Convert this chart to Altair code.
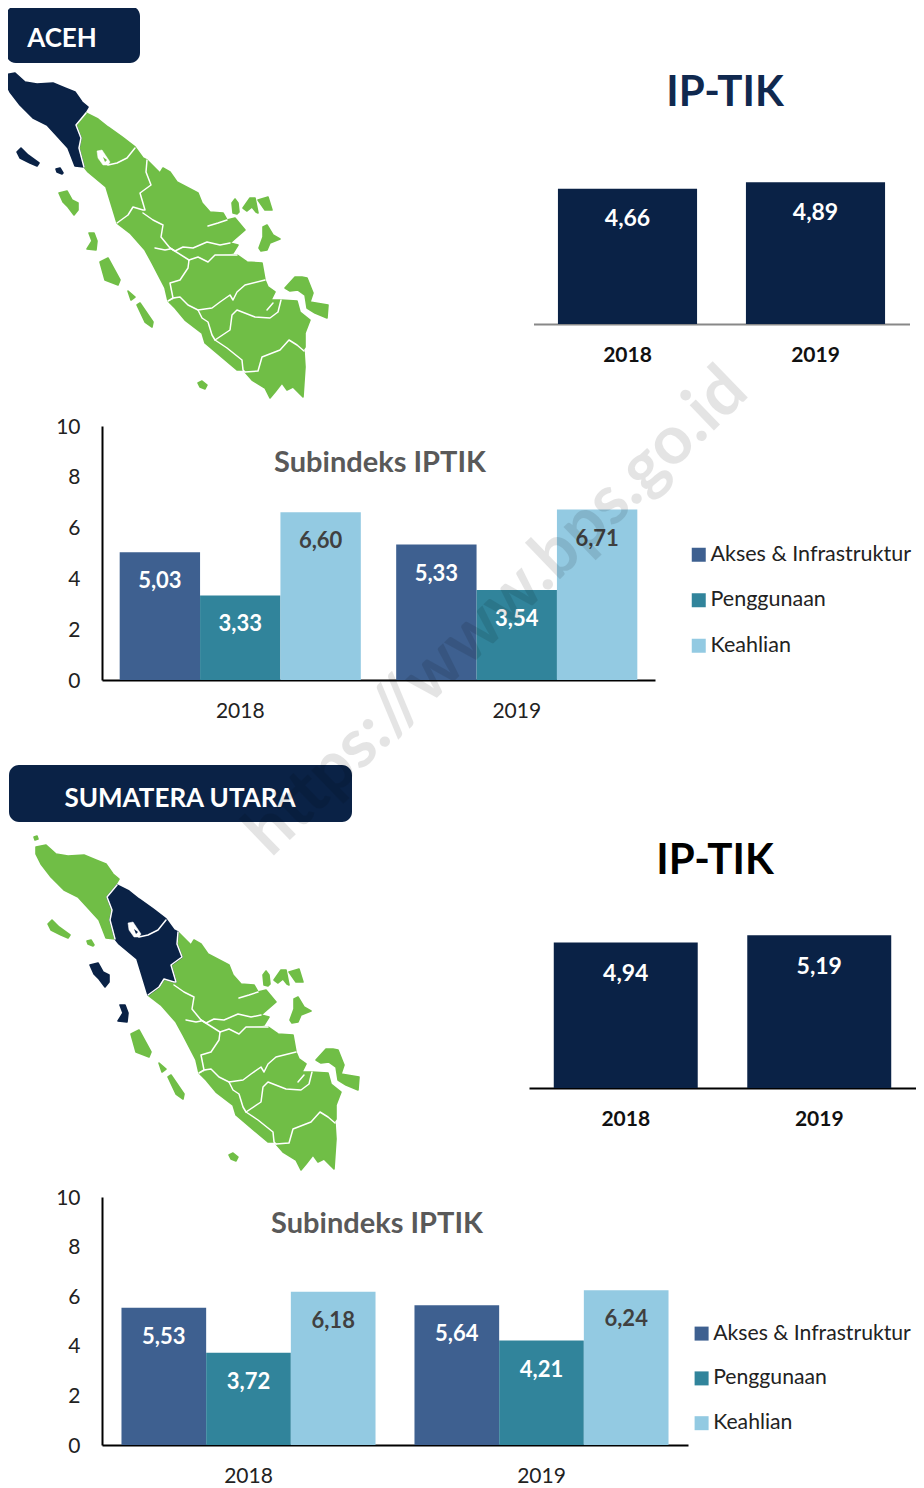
import altair as alt
import pandas as pd

FONT = "Lato"
NAVY = "#0A2246"
GREEN = "#70BE46"
SERIES_COLORS = ["#3E6090", "#31849B", "#93CAE2"]
H = 1478
W = 908

years = ["2018", "2019"]
series = ["Akses & Infrastruktur", "Penggunaan", "Keahlian"]
aceh_total = [4.66, 4.89]
sumut_total = [4.94, 5.19]
aceh_akses = [5.03, 5.33]
aceh_guna = [3.33, 3.54]
aceh_ahli = [6.60, 6.71]
sumut_akses = [5.53, 5.64]
sumut_guna = [3.72, 4.21]
sumut_ahli = [6.18, 6.24]

# Map outlines
prov_aceh = [(5,75),(15,73),(25,82),(37,84),(53,83),(65,88),(75,92),(82,102),(88,107),(85,112),(76,125),(81,138),(79,148),(84,167),(75,166),(68,148),(58,137),(47,125),(33,118),(20,105),(10,92),(5,82)]
prov_sumut = [(86,113),(98,119),(108,127),(122,137),(135,147),(143,158),(147,160),(146,172),(151,185),(140,193),(145,210),(143,210),(133,207),(128,215),(117,223),(106,187),(88,172),(84,167),(79,148),(81,138),(76,125)]
prov_riau = [(147,160),(160,173),(163,168),(170,172),(177,182),(198,193),(202,203),(210,212),(223,213),(227,220),(235,218),(245,230),(230,243),(238,245),(233,253),(215,255),(208,262),(198,257),(189,260),(170,248),(161,237),(163,225),(153,220),(143,213),(145,210),(140,193),(151,185),(146,172)]
prov_sumbar = [(117,223),(128,215),(133,207),(143,210),(143,213),(153,220),(163,225),(161,237),(170,248),(189,260),(188,268),(180,280),(170,283),(173,298),(168,301),(165,288),(152,263),(145,250),(130,233)]
prov_jambi = [(189,260),(198,257),(208,262),(215,255),(237,255),(247,262),(262,263),(265,280),(245,285),(237,292),(233,300),(230,295),(220,302),(212,308),(198,310),(188,305),(180,297),(173,298),(170,283),(180,280),(188,268)]
prov_bengkulu = [(169,302),(180,297),(188,305),(198,310),(202,318),(208,322),(212,335),(215,340),(227,348),(242,360),(243,370),(237,370),(205,343),(202,333),(185,320),(175,308)]
prov_sumsel = [(198,310),(212,308),(220,302),(230,295),(233,300),(237,292),(245,285),(265,280),(268,287),(275,292),(271,300),(281,300),(278,312),(270,318),(255,317),(237,310),(232,315),(230,330),(215,340),(212,335),(208,322),(202,318)]
prov_sumsel2 = [(215,342),(230,330),(232,315),(237,310),(255,317),(270,318),(278,312),(281,300),(297,301),(300,312),(310,320),(305,333),(305,347),(303,350),(297,345),(289,340),(280,350),(262,357),(258,370),(245,371),(242,360),(227,348)]
prov_lampung = [(245,372),(258,371),(262,357),(280,350),(289,340),(297,345),(304,351),(305,367),(303,397),(293,387),(287,390),(282,383),(275,392),(270,398),(265,388),(252,380)]
isl_simeulue = [(17,152),(21,148),(28,155),(39,163),(37,166),(30,163),(20,158)]
isl_banyak = [(56,169),(60,168),(63,173),(62,174),(57,172)]
isl_sabang = [(3,65),(6,64),(7,67),(4,68)]
isl_nias = [(59,193),(67,191),(72,200),(78,203),(78,210),(74,215),(68,207),(63,202)]
isl_batu = [(89,233),(94,233),(97,241),(96,250),(87,249),(92,241)]
isl_siberut = [(100,262),(108,258),(120,280),(118,285),(105,280)]
isl_sipora = [(128,291),(135,297),(131,300)]
isl_pagai = [(137,305),(140,303),(153,322),(152,327),(145,322)]
isl_bangka = [(285,288),(295,277),(302,277),(307,278),(313,293),(310,302),(328,305),(327,318),(315,313),(307,308),(305,295),(298,290),(290,291)]
isl_bintan = [(259,248),(263,237),(263,227),(267,225),(273,235),(280,239),(270,243),(267,250),(261,251)]
isl_r1 = [(232,203),(235,199),(238,203),(239,212),(237,214),(233,213)]
isl_r2 = [(243,208),(250,198),(255,198),(258,213),(256,212),(252,207),(247,211)]
isl_r3 = [(258,200),(268,197),(272,210),(265,210)]
isl_south = [(198,383),(202,381),(207,385),(205,389),(200,387)]
lake_toba = [(97,151),(102,150),(110,162),(108,165),(103,165),(98,158)]
lake_isle = [(103,157),(107,160),(105,162)]
line_toba = [(108,165),(117,163),(127,158),(135,148)]
line_inlet = [(208,226),(218,223),(227,220)]
line_strip = [(155,248),(165,250),(170,249)]
line_bay = [(267,310),(273,303)]
line_aceh = [(86,113),(76,125),(81,138),(79,148),(84,167)]
line_sumut = [(147,160),(146,172),(151,185),(140,193),(145,210),(143,210),(133,207),(128,215),(117,223)]
line_riau = [(143,213),(153,220),(163,225),(161,237),(170,248),(189,260)]
line_strip_top = [(170,248),(175,251),(183,247),(193,248),(207,242),(220,245),(230,243)]
line_strip_low = [(189,260),(198,257),(208,262),(215,255),(237,255)]
line_sumbar = [(189,260),(188,268),(180,280),(170,283),(173,298),(168,301)]
line_bengkulu = [(173,298),(180,297),(188,305),(198,310),(202,318),(208,322),(212,335),(215,340),(227,348),(242,360),(243,370),(245,372)]
line_jambi = [(198,310),(212,308),(220,302),(230,295),(233,300),(237,292),(245,285),(265,280)]
line_sumsel = [(215,340),(230,330),(232,315),(237,310),(255,317),(270,318),(278,312),(281,300)]
line_lampung = [(245,372),(258,371),(262,357),(280,350),(289,340),(297,345),(304,351)]

MAP_SHIFT = (31, 772)

mainland = [prov_aceh, prov_sumut, prov_riau, prov_sumbar, prov_jambi, prov_bengkulu, prov_sumsel, prov_sumsel2, prov_lampung]
islands = [isl_simeulue, isl_banyak, isl_sabang, isl_nias, isl_batu, isl_siberut, isl_sipora, isl_pagai, isl_bangka, isl_bintan, isl_r1, isl_r2, isl_r3, isl_south]
lines = [line_toba, line_inlet, line_strip, line_bay, line_aceh, line_sumut, line_riau, line_strip_top, line_strip_low,
         line_sumbar, line_bengkulu, line_jambi, line_sumsel, line_lampung]


def shift(poly, d):
    return [[x + d[0], y + d[1]] for x, y in poly]


def poly_feature(poly, d):
    ring = shift(poly, d)
    ring = ring + [ring[0]]
    return {"type": "Feature", "properties": {}, "geometry": {"type": "Polygon", "coordinates": [ring]}}


def line_feature(line, d):
    return {"type": "Feature", "properties": {}, "geometry": {"type": "LineString", "coordinates": shift(line, d)}}


def geo(polys, d, color, sw=1.6):
    return alt.Chart(alt.Data(values=[poly_feature(p, d) for p in polys])).mark_geoshape(
        fill=color, stroke=color, strokeWidth=sw, strokeJoin="round").project(type="identity", scale=1, translate=[-8, -8])


def map_layers(d, dark):
    green = [p for p in mainland + islands if not any(p is q for q in dark)]
    out = [geo(green, d, GREEN), geo(dark, d, NAVY)]
    out.append(geo([lake_toba], d, "white", 0.5))
    out.append(geo([lake_isle], d, NAVY if prov_sumut in dark else GREEN, 0))
    out.append(alt.Chart(alt.Data(values=[line_feature(l, d) for l in lines])).mark_geoshape(
        filled=False, stroke="white", strokeWidth=1.5, strokeJoin="round", strokeCap="round").project(type="identity", scale=1, translate=[-8, -8]))
    return out


def label(text, x, y, size, color, weight="bold"):
    return alt.Chart(pd.DataFrame({"t": [text]})).mark_text(
        font=FONT, fontSize=size, fontWeight=weight, color=color, align="center", baseline="middle"
    ).encode(text="t:N", x=alt.value(x - 8), y=alt.value(y - 8 + 2))


def box(x0, x1, y0, y1):
    return alt.Chart(pd.DataFrame({"a": [1]})).mark_rect(color=NAVY, cornerRadius=10).encode(
        x=alt.value(x0 - 8), x2=alt.value(x1 - 8), y=alt.value(y0 - 8), y2=alt.value(y1 - 8))


def total_chart(vals, x0, x1, base, per_unit, pi, po, dom_color, dy):
    df = pd.DataFrame({"year": years, "value": vals, "txt": [f"{v:.2f}".replace(".", ",") for v in vals]})
    b = base - 8
    xs = alt.Scale(domain=years, range=[x0 - 8, x1 - 8], paddingInner=pi, paddingOuter=po)
    ys = alt.Scale(domain=[0, 6], range=[b, b - 6 * per_unit], nice=False)
    bars = alt.Chart(df).mark_bar(color=NAVY).encode(
        x=alt.X("year:N", scale=xs, sort=years, title=None, axis=alt.Axis(
            orient="bottom", offset=b - H, labelAngle=0, ticks=False, domainColor=dom_color, domainWidth=2,
            labelFont=FONT, labelFontSize=21, labelFontWeight="bold", labelColor="#111111", labelPadding=20.5, grid=False)),
        y=alt.Y("value:Q", scale=ys, axis=None),
    )
    text = alt.Chart(df).mark_text(font=FONT, fontSize=23, fontWeight="bold", color="white", dy=dy + 1.5, baseline="middle").encode(
        x=alt.X("year:N", scale=xs, sort=years, axis=None),
        y=alt.Y("value:Q", scale=ys, axis=None),
        text="txt:N",
    )
    return [bars, text]


def sub_chart(akses, guna, ahli, x0, x1, base, top, pad, leg_x, leg_y, leg_size, leg_pad):
    rows = []
    for s, vals, c in zip(series, [akses, guna, ahli], ["white", "white", "#404040"]):
        for y, v in zip(years, vals):
            rows.append({"year": y, "series": s, "value": v, "txt": f"{v:.2f}".replace(".", ","), "tc": c})
    df = pd.DataFrame(rows)
    b = base - 8
    xs = alt.Scale(domain=years, range=[x0 - 8, x1 - 8], paddingInner=0, paddingOuter=0)
    ys = alt.Scale(domain=[0, 10], range=[b, top - 8], nice=False)
    os_ = alt.Scale(type="band", domain=series, paddingOuter=pad, paddingInner=0)
    bars = alt.Chart(df).mark_bar().encode(
        x=alt.X("year:N", scale=xs, sort=years, title=None, axis=alt.Axis(
            orient="bottom", offset=b - H, labelAngle=0, ticks=False, domainColor="black", domainWidth=2,
            labelFont=FONT, labelFontSize=21, labelColor="#222222", labelPadding=20.5, grid=False)),
        xOffset=alt.XOffset("series:N", scale=os_, sort=series),
        y=alt.Y("value:Q", scale=ys, stack=None, title=None, axis=alt.Axis(
            orient="left", offset=-(x0 - 8), values=[0, 2, 4, 6, 8, 10], ticks=False, domainColor="black", domainWidth=2,
            labelFont=FONT, labelFontSize=21, labelColor="#222222", labelPadding=22, labelOffset=1, grid=False, format="d")),
        color=alt.Color("series:N", scale=alt.Scale(domain=series, range=SERIES_COLORS), sort=series, legend=alt.Legend(
            orient="none", legendX=leg_x - 8, legendY=leg_y - 8, title=None, symbolType="square", symbolSize=196,
            symbolStrokeWidth=0, symbolOpacity=1, labelFont=FONT, labelFontSize=leg_size, labelColor="#222222",
            rowPadding=leg_pad, labelOffset=1, labelLimit=240)),
    )
    text = alt.Chart(df).mark_text(font=FONT, fontSize=22, fontWeight="bold", dy=29, baseline="middle").encode(
        x=alt.X("year:N", scale=xs, sort=years, axis=None),
        xOffset=alt.XOffset("series:N", scale=os_, sort=series),
        y=alt.Y("value:Q", scale=ys, stack=None, axis=None),
        color=alt.Color("tc:N", scale=None),
        text="txt:N",
    )
    return [bars, text]


layers = []
layers += map_layers((0, 0), [prov_aceh, isl_simeulue, isl_banyak, isl_sabang])
layers += map_layers(MAP_SHIFT, [prov_sumut, isl_nias, isl_batu])
layers += [box(6, 140, 6, 63), label("ACEH", 62, 37, 26, "white")]
layers += [box(9, 352, 765, 822), label("SUMATERA UTARA", 180, 797, 26, "white")]
layers += [label("IP-TIK", 725, 91, 42, "#10294F"), label("IP-TIK", 715, 859, 42, "black")]
layers += [label("Subindeks IPTIK", 380, 461, 29, "#595959"), label("Subindeks IPTIK", 377, 1222, 29, "#595959")]
layers += total_chart(aceh_total, 533.5, 909.5, 324, 29, 0.26, 0.13, "#888888", 29)
layers += total_chart(sumut_total, 529, 916, 1088, 29.45, 0.256, 0.128, "black", 30)
layers += sub_chart(aceh_akses, aceh_guna, aceh_ahli, 102, 655, 680, 426, 0.22, 688, 544, 21.5, 22.5)
layers += sub_chart(sumut_akses, sumut_guna, sumut_ahli, 102, 688, 1445, 1197, 0.23, 691, 1323, 21.2, 22.8)
layers.append(alt.Chart(pd.DataFrame({"t": ["https://www.bps.go.id"]})).mark_text(
    font=FONT, fontSize=68, fontWeight="bold", color="black", opacity=0.1, angle=316, align="center", baseline="middle"
).encode(text="t:N", x=alt.value(497 - 8), y=alt.value(612 - 8)))

chart = alt.layer(*layers).resolve_scale(x="independent", y="independent", color="independent", xOffset="independent").properties(
    width=W, height=H, padding=0, autosize=alt.AutoSizeParams(type="none")
).configure_view(stroke=None)

chart.save("out.html", embed_options={"renderer": "svg", "actions": False})
